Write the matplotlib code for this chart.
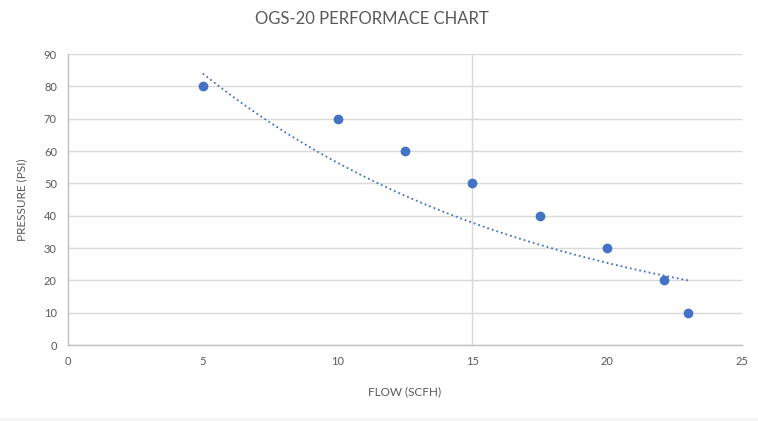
import numpy as np
import matplotlib
matplotlib.use('Agg')
import matplotlib.pyplot as plt

# data
flow = [5, 10, 12.5, 15, 17.5, 20, 22.1, 23]
pressure = [80, 70, 60, 50, 40, 30, 20, 10]

# exponential trendline y = a * exp(b * (x - 5)), parameters
trend_a = 84.0
trend_b = -0.0797
trend_range = (5, 23)

x_ticks = [0, 5, 10, 15, 20, 25]
y_ticks = [0, 10, 20, 30, 40, 50, 60, 70, 80, 90]
vgrid_x = [15]

plt.rcParams['font.family'] = ['Lato', 'DejaVu Sans']
text_col = '#595959'
blue = '#4472C4'

fig = plt.figure(figsize=(7.58, 4.21), dpi=100)
ax = fig.add_axes([0.0897, 0.1805, 0.889, 0.691])

ax.set_xlim(0, 25)
ax.set_ylim(0, 90)
ax.set_xticks(x_ticks)
ax.set_yticks(y_ticks)

ax.grid(axis='y', color='#d9d9d9', linewidth=1)
for xv in vgrid_x:
    ax.axvline(xv, color='#d9d9d9', linewidth=1, zorder=0.5)
ax.set_axisbelow(True)

for s in ['top', 'right']:
    ax.spines[s].set_visible(False)
for s in ['left', 'bottom']:
    ax.spines[s].set_color('#bfbfbf')
    ax.spines[s].set_linewidth(1)

ax.tick_params(length=0, labelsize=8, labelcolor=text_col, pad=8)

xt = np.linspace(trend_range[0], trend_range[1], 100)
ax.plot(xt, trend_a * np.exp(trend_b * (xt - 5)), color=blue, linestyle=':', linewidth=1.3)
ax.plot(flow, pressure, 'o', color=blue, markersize=6, zorder=3)

fig.text(0.49, 0.955, 'OGS-20 PERFORMACE CHART', ha='center', va='center', fontsize=12, color=text_col)
ax.set_xlabel('FLOW (SCFH)', fontsize=8.5, color=text_col, labelpad=14)
ax.set_ylabel('PRESSURE (PSI)', fontsize=8.5, color=text_col, labelpad=12)

fig.add_artist(plt.Line2D([0, 1], [0.005, 0.005], color='#eeeeee', linewidth=1))

fig.savefig('out.png', dpi=100)
